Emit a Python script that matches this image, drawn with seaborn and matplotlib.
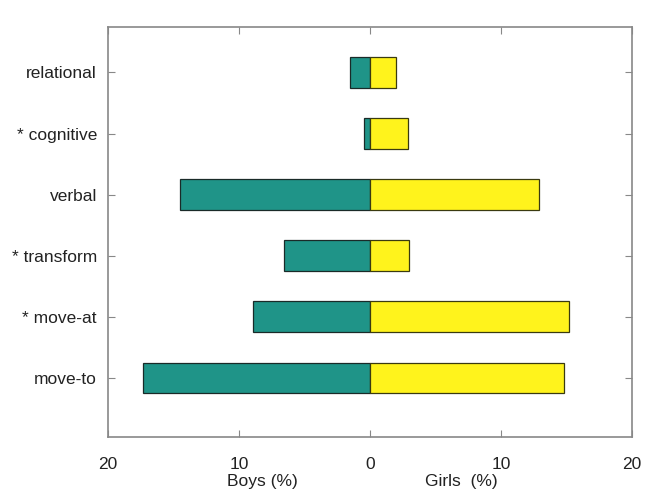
import matplotlib
matplotlib.use("Agg")
import matplotlib.pyplot as plt
import matplotlib.transforms as mtransforms
import seaborn as sns
import pandas as pd

categories = ["relational", "* cognitive", "verbal", "* transform", "* move-at", "move-to"]
boys = [1.5, 0.45, 14.5, 6.6, 8.9, 17.3]
girls = [2.0, 2.9, 12.9, 3.0, 15.2, 14.8]

teal = "#1f9488"
yellow = "#fff31c"

sns.set_theme(style="white")
plt.rcParams["font.family"] = ["Liberation Sans", "DejaVu Sans"]

df = pd.DataFrame({"category": categories,
                   "boys": [-b for b in boys],
                   "girls": girls})

fig = plt.figure(figsize=(6.47, 4.95), dpi=100)
ax = fig.add_axes([0.167, 0.117, 0.810, 0.828])

sns.barplot(data=df, x="boys", y="category", order=categories, orient="h",
            color=teal, edgecolor="#1a2a28", linewidth=0.9, width=0.5,
            saturation=1, ax=ax)
sns.barplot(data=df, x="girls", y="category", order=categories, orient="h",
            color=yellow, edgecolor="#3a3a10", linewidth=0.9, width=0.5,
            saturation=1, ax=ax)

ax.set_xlim(-20, 20)
ax.set_ylim(5.97, -0.74)
ax.set_xticks([-20, -10, 0, 10, 20])
ax.set_xticklabels(["20", "10", "0", "10", "20"])
ax.set_xlabel("")
ax.set_ylabel("")

ax.tick_params(axis="both", direction="in", length=5, width=0.8, color="#888888",
               labelsize=12.5, labelcolor="#222222")
ax.tick_params(axis="x", pad=14, top=True, bottom=True)
ax.tick_params(axis="y", pad=8, left=True, right=True)

for sp in ax.spines.values():
    sp.set_color("#888888")
    sp.set_linewidth(1.2)

trans = mtransforms.blended_transform_factory(ax.transData, fig.transFigure)
ax.text(-8.2, 0.027, "Boys (%)", transform=trans, ha="center", va="center",
        fontsize=12.5, color="#222222")
ax.text(7.0, 0.027, "Girls  (%)", transform=trans, ha="center", va="center",
        fontsize=12.5, color="#222222")

fig.savefig("out.png", dpi=100)
